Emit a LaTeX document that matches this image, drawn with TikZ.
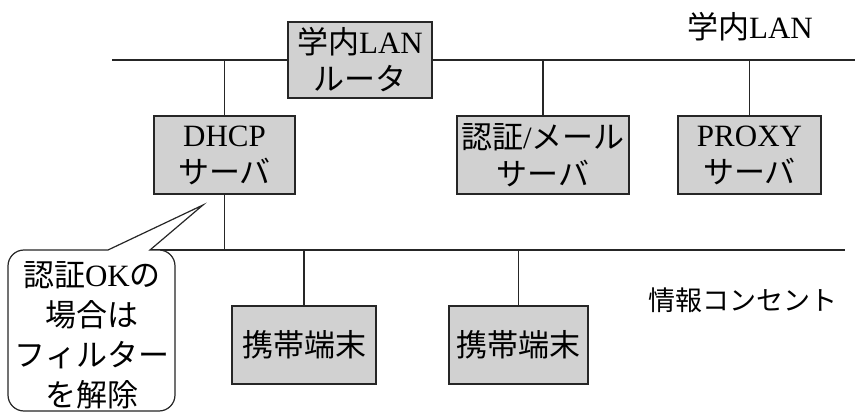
\documentclass[tikz,border=0pt]{standalone}
\usepackage{fontspec}
\setmainfont{Liberation Serif}
\newfontfamily\cjk{Noto Sans CJK JP}
\newcommand{\jp}[1]{{\cjk #1}}
\begin{document}
\begin{tikzpicture}[x=1pt,y=-1pt,
  wire/.style={line width=1.6pt, black!85},
  box/.style={draw=black!85, line width=1.6pt, fill=black!18, inner sep=0pt, align=center,
    font=\fontsize{31}{37}\selectfont},
  lbl/.style={inner sep=0pt, font=\fontsize{31}{37}\selectfont}]
\useasboundingbox (0,0) rectangle (855,412);
% network lines
\coordinate (lanL) at (112,60);
\coordinate (lanR) at (855,60);
\coordinate (netL) at (150,250);
\coordinate (netR) at (845,250);
\draw[wire] (lanL) -- (lanR);
\draw[wire] (netL) -- (netR);
% boxes
\node[box, minimum width=144, minimum height=76] (router) at (360,60) {\jp{学内}LAN\\\jp{ルータ}};
\node[box, minimum width=141, minimum height=78] (dhcp) at (224.5,155) {DHCP\\\jp{サーバ}};
\node[box, minimum width=172, minimum height=78] (auth) at (543,155) {\jp{認証}/\jp{メール}\\\jp{サーバ}};
\node[box, minimum width=143, minimum height=78] (proxy) at (749.5,155) {PROXY\\\jp{サーバ}};
\node[box, minimum width=144, minimum height=78] (t1) at (304,345) {\jp{携帯端末}};
\node[box, minimum width=139, minimum height=78] (t2) at (518.5,345) {\jp{携帯端末}};
% connectors
\draw[wire] (dhcp.north) -- (dhcp.north |- lanL);
\draw[wire] (dhcp.south) -- (dhcp.south |- netL);
\draw[wire] (auth.north) -- (auth.north |- lanL);
\draw[wire] (proxy.north) -- (proxy.north |- lanL);
\draw[wire] (t1.north) -- (t1.north |- netL);
\draw[wire] (t2.north) -- (t2.north |- netL);
% labels
\node[lbl] (lanlbl) at (750,27) {\jp{学内}LAN};
\node[lbl, font=\fontsize{27}{32}\selectfont] (netlbl) at (743,300) {\jp{情報コンセント}};
% callout
\coordinate (tip) at (203,205);
\draw[line width=1.2pt, black!85, fill=white] (150,250) [rounded corners=16pt] -- (175,250) -- (175,411) -- (8,411) -- (8,250) [sharp corners] -- (108,250) -- (tip) -- cycle;
\node[inner sep=0pt, align=center, font=\fontsize{31}{40}\selectfont] (note) at (92,335)
  {\jp{認証}OK\jp{の}\\\jp{場合は}\\\jp{フィルター}\\\jp{を解除}};
\end{tikzpicture}
\end{document}
